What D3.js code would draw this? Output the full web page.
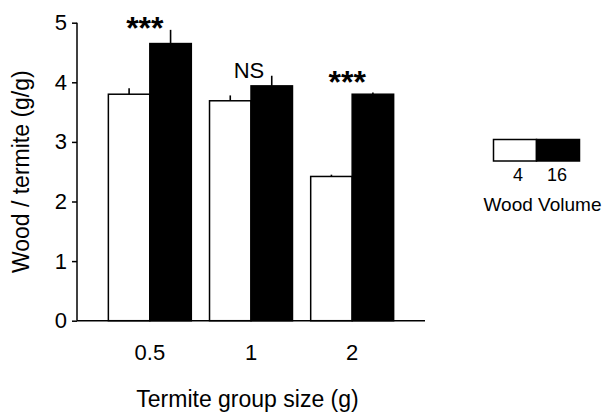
<!DOCTYPE html>
<html>
<head>
<meta charset="utf-8">
<script src="https://cdn.jsdelivr.net/npm/d3@7"></script>
<style>
  html, body { margin: 0; padding: 0; background: #fff; }
  text { font-family: "Liberation Sans", Arial, sans-serif; fill: #000; }
</style>
</head>
<body>
<svg id="chart" width="604" height="414"></svg>
<script>
// ---- data ----
const groups = ["0.5", "1", "2"];
const volumes = ["4", "16"];
const meansVol4 = [3.80, 3.69, 2.42];
const meansVol16 = [4.65, 3.94, 3.80];
const errVol4 = [0.10, 0.09, 0.03];
const errVol16 = [0.23, 0.17, 0.03];
const significance = ["***", "NS", "***"];
const significanceLevel = [4.73, 4.07, 3.82]; // label baseline, in y units
const yTicks = [0, 1, 2, 3, 4, 5];
const yLabel = "Wood / termite (g/g)";
const xLabel = "Termite group size (g)";
const legendTitle = "Wood Volume";
const fills = ["#ffffff", "#000000"];

// ---- layout ----
const svg = d3.select("#chart");
const pLeft = 77, pRight = 425, pTop = 22.7, pBottom = 320.7;

const x0 = d3.scaleBand().domain(groups).range([pLeft, pRight]).paddingInner(0.18).paddingOuter(0.31);
const x1 = d3.scaleBand().domain(volumes).range([0, x0.bandwidth()]).padding(0);
const y = d3.scaleLinear().domain([0, 5]).range([pBottom, pTop]);

const rows = [];
groups.forEach((g, i) => {
  rows.push({g, v: volumes[0], m: meansVol4[i], e: errVol4[i], fill: fills[0]});
  rows.push({g, v: volumes[1], m: meansVol16[i], e: errVol16[i], fill: fills[1]});
});

// error bars (upward only)
svg.append("g").selectAll("line").data(rows).join("line")
  .attr("x1", d => x0(d.g) + x1(d.v) + x1.bandwidth() / 2)
  .attr("x2", d => x0(d.g) + x1(d.v) + x1.bandwidth() / 2)
  .attr("y1", d => y(d.m))
  .attr("y2", d => y(d.m + d.e))
  .attr("stroke", "#000").attr("stroke-width", 1.6);

// bars
svg.append("g").selectAll("rect").data(rows).join("rect")
  .attr("x", d => x0(d.g) + x1(d.v))
  .attr("y", d => y(d.m))
  .attr("width", x1.bandwidth())
  .attr("height", d => y(0) - y(d.m))
  .attr("fill", d => d.fill)
  .attr("stroke", "#000").attr("stroke-width", 1.5);

// y axis
const yAxis = svg.append("g").attr("transform", `translate(${pLeft},0)`)
  .call(d3.axisLeft(y).tickValues(yTicks).tickFormat(d3.format("d")).tickSize(5).tickPadding(5));
yAxis.attr("font-family", null).attr("font-size", null);
yAxis.select(".domain").attr("stroke", "#000").attr("stroke-width", 1.5)
  .attr("d", `M0,${pTop}V${pBottom}`);
yAxis.selectAll(".tick line").attr("stroke-width", 1.5);
yAxis.selectAll(".tick text").style("font-size", "22px");

// x axis
const xAxis = svg.append("g").attr("transform", `translate(0,${pBottom})`)
  .call(d3.axisBottom(x0).tickSize(0).tickPadding(24));
xAxis.attr("font-family", null).attr("font-size", null);
xAxis.select(".domain").attr("stroke", "#000").attr("stroke-width", 1.5)
  .attr("d", `M${pLeft},0H${pRight}`);
xAxis.selectAll(".tick text").style("font-size", "22px");

// significance labels
svg.append("g").selectAll("text").data(groups).join("text")
  .attr("x", (g, i) => x0(g) + x0.bandwidth() / 2 + (significance[i] === "NS" ? -2 : -5))
  .attr("y", (g, i) => y(significanceLevel[i]))
  .attr("text-anchor", "middle")
  .style("font-size", (g, i) => significance[i] === "NS" ? "22px" : "32px")
  .style("font-weight", (g, i) => significance[i] === "NS" ? "normal" : "bold")
  .text((g, i) => significance[i]);

// axis titles
svg.append("text")
  .attr("transform", `translate(28.5,${(pTop + pBottom) / 2}) rotate(-90)`)
  .attr("text-anchor", "middle")
  .style("font-size", "23px")
  .text(yLabel);
svg.append("text")
  .attr("x", 247.5).attr("y", 406.5)
  .attr("text-anchor", "middle")
  .style("font-size", "23px")
  .text(xLabel);

// legend
const lg = svg.append("g").attr("transform", "translate(493.5,139.5)");
const lx = d3.scaleBand().domain(volumes).range([0, 86]);
lg.selectAll("rect").data(volumes).join("rect")
  .attr("x", d => lx(d)).attr("y", 0)
  .attr("width", lx.bandwidth()).attr("height", 21.5)
  .attr("fill", (d, i) => fills[i])
  .attr("stroke", "#000").attr("stroke-width", 1.5);
lg.selectAll("text.lab").data(volumes).join("text").attr("class", "lab")
  .attr("x", (d, i) => lx(d) + lx.bandwidth() / 2 + (i === 0 ? 3 : -1))
  .attr("y", 41)
  .attr("text-anchor", "middle")
  .style("font-size", "18px")
  .text(d => d);
lg.append("text")
  .attr("x", 49).attr("y", 71.5)
  .attr("text-anchor", "middle")
  .style("font-size", "19px")
  .text(legendTitle);
</script>
</body>
</html>
